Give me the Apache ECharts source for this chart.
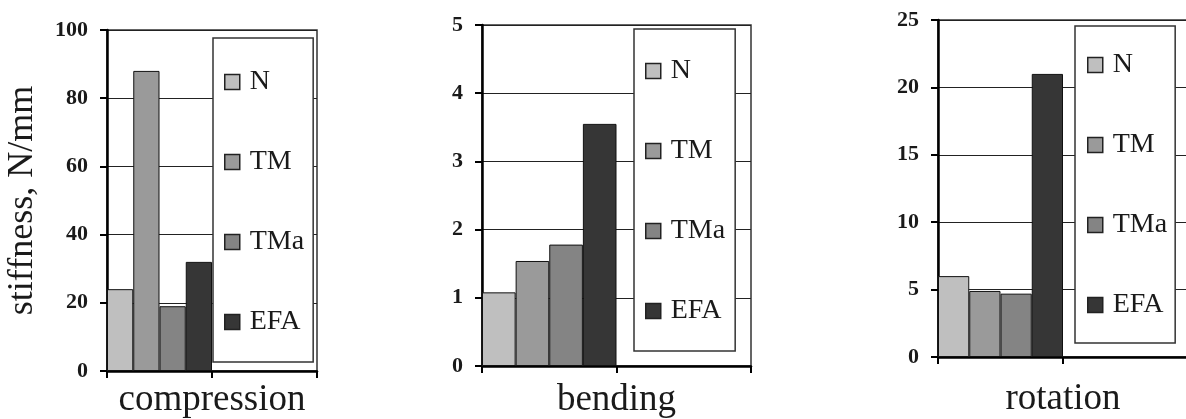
<!DOCTYPE html>
<html>
<head>
<meta charset="utf-8">
<script src="https://cdn.jsdelivr.net/npm/echarts@6/dist/echarts.min.js"></script>
<style>
html,body{margin:0;padding:0;background:#fff;}
#c{width:1186px;height:419px;}
</style>
</head>
<body>
<div id="c"></div>
<script>
// ---- data ----
const panelNames = ['compression', 'bending', 'rotation'];
const groupCategories = ['specimen', 'blank'];
const seriesNames = ['N', 'TM', 'TMa', 'EFA'];
const compressionValues = [24, 88, 19, 32];
const bendingValues = [1.08, 1.54, 1.78, 3.55];
const rotationValues = [6.0, 4.9, 4.7, 21.0];
const yMaxes = [100, 5, 25];
const yIntervals = [20, 1, 5];
const yAxisTitle = 'stiffness, N/mm';

// ---- styling ----
const panelValues = [compressionValues, bendingValues, rotationValues];
const barColors = ['#bfbfbf', '#9a9a9a', '#848484', '#363636'];
const serif = 'Liberation Serif';
const ink = '#1a1a1a';

const grids = [
  {left: 107, top: 30, width: 210, height: 341},
  {left: 482, top: 25, width: 269, height: 341},
  {left: 938, top: 20, width: 250, height: 337}
];
const xNameGaps = [11, 16, 24];
const legendBoxes = [
  {left: 213, top: 38, padding: [30, 9, 26, 11]},
  {left: 634, top: 29, padding: [28, 10, 26, 11]},
  {left: 1075, top: 26, padding: [25, 8, 24, 12]}
];

const option = {
  animation: false,
  backgroundColor: '#fff',
  textStyle: {fontFamily: serif, color: ink},
  grid: grids.map(g => Object.assign({
    show: true, borderColor: '#333', borderWidth: 1.5, backgroundColor: 'transparent',
    containLabel: false, outerBoundsMode: 'none'
  }, g)),
  xAxis: panelNames.map((name, i) => ({
    type: 'category',
    gridIndex: i,
    data: groupCategories,
    boundaryGap: true,
    name: name,
    nameLocation: 'middle',
    nameGap: xNameGaps[i],
    nameTextStyle: {fontFamily: serif, fontSize: 37, color: ink},
    axisLine: {show: true, lineStyle: {color: '#000', width: 2.5}},
    axisTick: {show: true, inside: false, length: 7, interval: 0, lineStyle: {color: '#000', width: 2}},
    axisLabel: {show: false},
    splitLine: {show: false}
  })),
  yAxis: yMaxes.map((mx, i) => ({
    type: 'value',
    gridIndex: i,
    min: 0,
    max: mx,
    interval: yIntervals[i],
    name: i === 0 ? yAxisTitle : '',
    nameLocation: 'middle',
    nameGap: 66,
    nameTextStyle: {fontFamily: serif, fontSize: 36, color: ink},
    axisLine: {show: true, lineStyle: {color: '#000', width: 2.5}},
    axisTick: {show: true, inside: false, length: 7, lineStyle: {color: '#000', width: 2}},
    axisLabel: {margin: 19, fontFamily: serif, fontSize: 22, fontWeight: 'bold', color: ink},
    splitLine: {show: true, lineStyle: {color: '#222', width: 1.2}}
  })),
  legend: legendBoxes.map(b => ({
    orient: 'vertical',
    left: b.left,
    top: b.top,
    padding: b.padding,
    data: seriesNames,
    backgroundColor: '#fff',
    borderColor: '#333',
    borderWidth: 1.5,
    borderRadius: 0,
    itemWidth: 15,
    itemHeight: 15,
    itemGap: 52,
    icon: 'rect',
    selectedMode: false,
    itemStyle: {borderColor: '#222', borderWidth: 1.5},
    textStyle: {fontFamily: serif, fontSize: 28, lineHeight: 28, color: ink, padding: [0, 0, 0, 5]}
  })),
  series: []
};

panelValues.forEach((vals, p) => {
  seriesNames.forEach((sn, s) => {
    option.series.push({
      type: 'bar',
      name: sn,
      xAxisIndex: p,
      yAxisIndex: p,
      data: [vals[s], '-'],
      barGap: '0%',
      barCategoryGap: '0%',
      itemStyle: {color: barColors[s], borderColor: '#111', borderWidth: 1}
    });
  });
});

const chart = echarts.init(document.getElementById('c'), null, {renderer: 'canvas'});
chart.setOption(option);
</script>
</body>
</html>
